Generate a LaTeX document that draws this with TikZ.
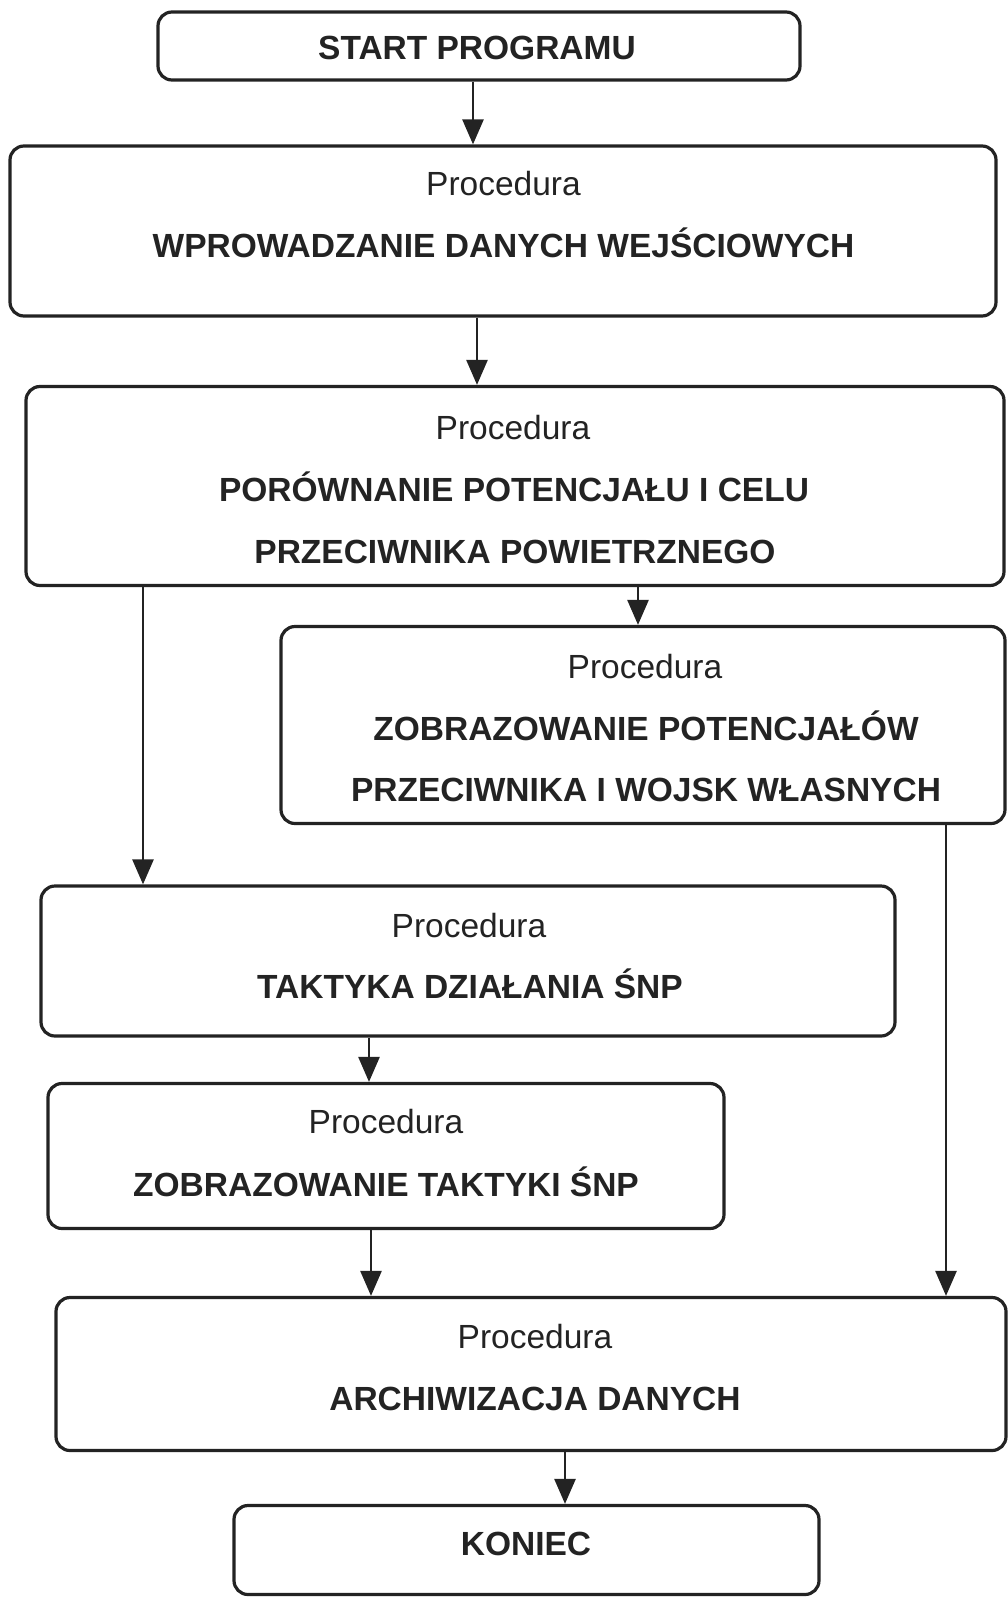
\documentclass[tikz,border=0pt]{standalone}
\usepackage{fontspec}
\setmainfont{Liberation Sans}
\usetikzlibrary{arrows.meta}
\definecolor{ink}{HTML}{232323}
\begin{document}
\begin{tikzpicture}[x=1pt,y=-1pt,
  procbox/.style={draw=ink,line width=3.2pt,rounded corners=14pt,inner sep=0pt},
  title/.style={anchor=base,text=ink,font=\fontsize{33.5}{40}\selectfont\bfseries},
  kind/.style={anchor=base,text=ink,font=\fontsize{33.5}{40}\selectfont},
  flow/.style={draw=ink,line width=2.6pt,-{Triangle[length=25pt,width=21pt]}}]
\useasboundingbox (0,0) rectangle (1008,1598);

% boxes: centre, width, height
\node[procbox,minimum width=642pt,minimum height=68pt]  (b1) at (479,46)     {};
\node[procbox,minimum width=986pt,minimum height=170pt] (b2) at (503,231)    {};
\node[procbox,minimum width=978pt,minimum height=199pt] (b3) at (515,486)    {};
\node[procbox,minimum width=724pt,minimum height=197pt] (b4) at (643,725)    {};
\node[procbox,minimum width=854pt,minimum height=150pt] (b5) at (468,961)    {};
\node[procbox,minimum width=676pt,minimum height=145pt] (b6) at (386,1156)   {};
\node[procbox,minimum width=950pt,minimum height=153pt] (b7) at (531,1374)   {};
\node[procbox,minimum width=585pt,minimum height=89pt]  (b8) at (526.5,1550) {};

% texts
\node[title] (t1)  at (477,59)   {START PROGRAMU};
\node[kind]  (t2a) at (503.5,195) {Procedura};
\node[title] (t2b) at (503.5,257) {WPROWADZANIE DANYCH WEJŚCIOWYCH};
\node[kind]  (t3a) at (513,439)  {Procedura};
\node[title] (t3b) at (514,501)  {PORÓWNANIE POTENCJAŁU I CELU};
\node[title] (t3c) at (515,563)  {PRZECIWNIKA POWIETRZNEGO};
\node[kind]  (t4a) at (645,678)  {Procedura};
\node[title] (t4b) at (646,740)  {ZOBRAZOWANIE POTENCJAŁÓW};
\node[title] (t4c) at (646,801)  {PRZECIWNIKA I WOJSK WŁASNYCH};
\node[kind]  (t5a) at (469,937)  {Procedura};
\node[title] (t5b) at (470,998)  {TAKTYKA DZIAŁANIA ŚNP};
\node[kind]  (t6a) at (386,1133) {Procedura};
\node[title] (t6b) at (386,1196) {ZOBRAZOWANIE TAKTYKI ŚNP};
\node[kind]  (t7a) at (535,1348) {Procedura};
\node[title] (t7b) at (535,1410) {ARCHIWIZACJA DANYCH};
\node[title] (t8)  at (526,1555) {KONIEC};

% connector columns
\coordinate (c1) at (473,0);
\coordinate (c2) at (477,0);
\coordinate (c3) at (143,0);
\coordinate (c4) at (638,0);
\coordinate (c5) at (946,0);
\coordinate (c6) at (369,0);
\coordinate (c7) at (371,0);
\coordinate (c8) at (565,0);

% connectors
\draw[flow] (b1.south -| c1) -- (b2.north -| c1);
\draw[flow] (b2.south -| c2) -- (b3.north -| c2);
\draw[flow] (b3.south -| c3) -- (b5.north -| c3);
\draw[flow] (b3.south -| c4) -- (b4.north -| c4);
\draw[flow] (b4.south -| c5) -- (b7.north -| c5);
\draw[flow] (b5.south -| c6) -- (b6.north -| c6);
\draw[flow] (b6.south -| c7) -- (b7.north -| c7);
\draw[flow] (b7.south -| c8) -- (b8.north -| c8);
\end{tikzpicture}
\end{document}
